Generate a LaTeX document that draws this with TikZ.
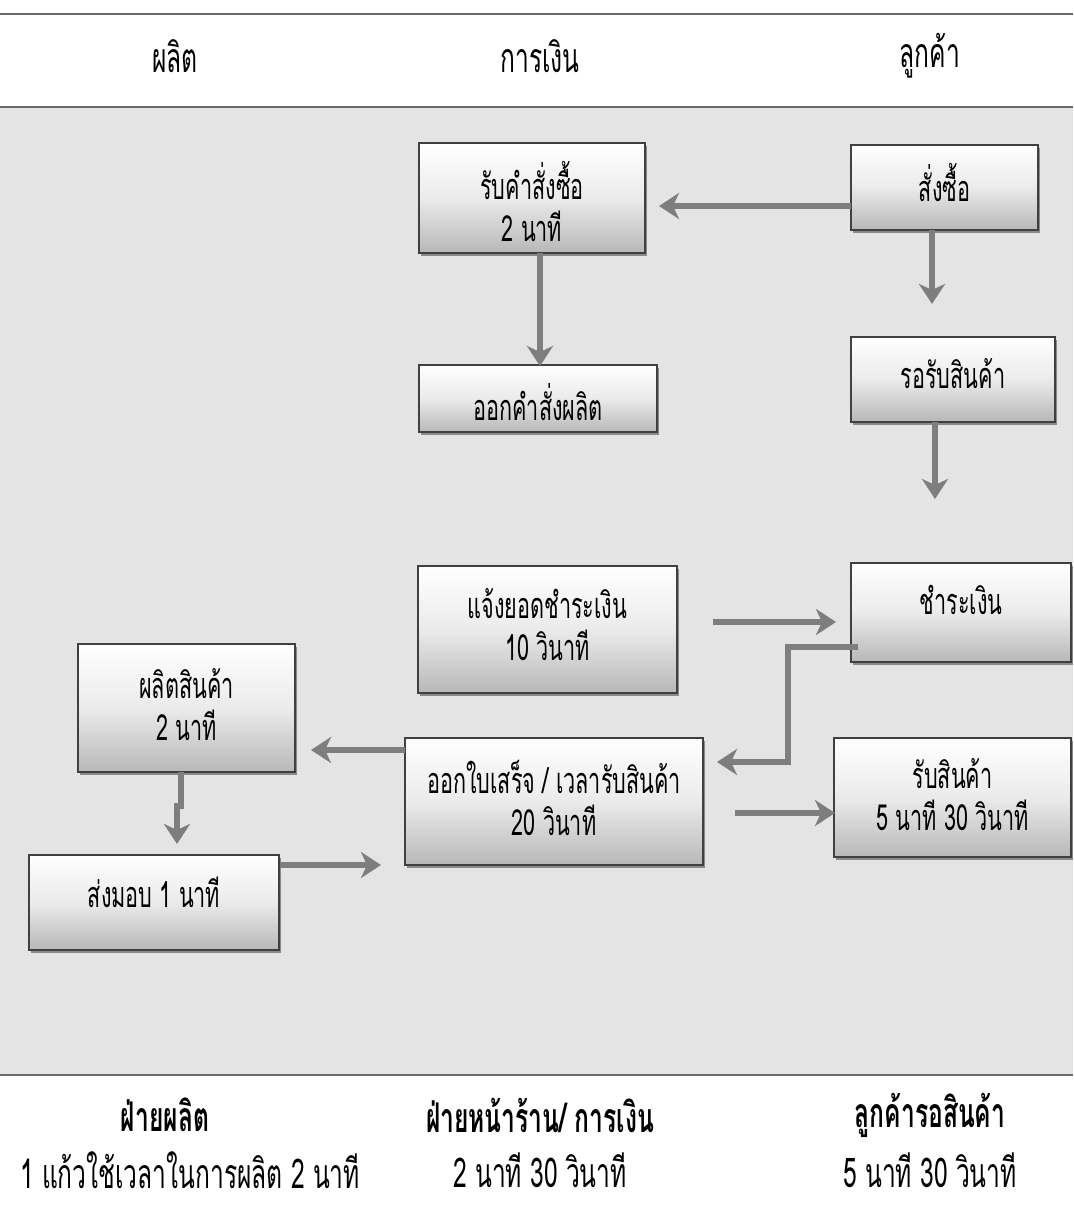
\documentclass[tikz,border=0pt]{standalone}
\usepackage{fontspec}
\newfontfamily\thai[Script=Thai,FakeStretch=0.6]{Loma}
\usetikzlibrary{arrows.meta,shadows}
\definecolor{bggray}{HTML}{E4E4E4}
\definecolor{arrgray}{HTML}{7E7E7E}
\definecolor{linegray}{HTML}{6A6A6A}
\tikzset{
  boxnode/.style={draw=black!75, line width=0.6pt, inner sep=0pt,
    top color=white, bottom color=black!28, middle color=black!8,
    drop shadow={shadow xshift=1.2pt, shadow yshift=-1.5pt, fill=black!55, opacity=0.8}},
  txt/.style={font=\thai\fontsize{18}{21}\selectfont, align=center, inner sep=0pt},
  headtxt/.style={font=\thai\fontsize{20.5}{22}\selectfont, inner sep=0pt},
  foottxt/.style={font=\thai\bfseries\fontsize{20.5}{22}\selectfont, inner sep=0pt},
  sepline/.style={draw=linegray, line width=0.7pt},
  flow/.style={draw=arrgray, line width=3.2pt,
    -{Stealth[length=10pt,width=13pt,inset=3pt]}}
}
\begin{document}
\begin{tikzpicture}[x=0.5pt,y=-0.5pt]
\useasboundingbox (0,0) rectangle (1073,1208);
% background band
\fill[bggray] (0,107) rectangle (1073,1075);
% separator lines
\draw[sepline] (0,14) -- (1073,14);
\draw[sepline] (0,107) -- (1073,107);
\draw[sepline] (0,1075) -- (1073,1075);
% headers
\node[headtxt] (h1) at (175,56) {ผลิต};
\node[headtxt] (h2) at (540,56) {การเงิน};
\node[headtxt] (h3) at (930,56) {ลูกค้า};
% footers
\node[foottxt] (f1) at (165,1115) {ฝ่ายผลิต};
\node[foottxt] (f2) at (540,1115) {ฝ่ายหน้าร้าน/ การเงิน};
\node[foottxt] (f3) at (930,1115) {ลูกค้ารอสินค้า};
\node[headtxt] (g1) at (190,1170) {1 แก้วใช้เวลาในการผลิต 2 นาที};
\node[headtxt] (g2) at (540,1170) {2 นาที 30 วินาที};
\node[headtxt] (g3) at (930,1170) {5 นาที 30 วินาที};
% boxes
\node[boxnode, minimum width=113pt, minimum height=55pt] (rcv) at (532,198) {};
\node[boxnode, minimum width=93.5pt, minimum height=42.5pt] (order) at (944.5,187.5) {};
\node[boxnode, minimum width=119pt, minimum height=33.5pt] (prodorder) at (538,398.5) {};
\node[boxnode, minimum width=102pt, minimum height=42.5pt] (wait) at (953,379.5) {};
\node[boxnode, minimum width=129.5pt, minimum height=63.5pt] (bill) at (547.5,629.5) {};
\node[boxnode, minimum width=110pt, minimum height=49.5pt] (pay) at (961,612.5) {};
\node[boxnode, minimum width=118.5pt, minimum height=59.5pt] (get) at (952.5,797.5) {};
\node[boxnode, minimum width=108.5pt, minimum height=64pt] (produce) at (186.5,708) {};
\node[boxnode, minimum width=149pt, minimum height=63.5pt] (receipt) at (554,801.5) {};
\node[boxnode, minimum width=125pt, minimum height=47.5pt] (deliver) at (154,902.5) {};
% box texts
\node[txt] (rcvT) at (532,202) {รับคำสั่งซื้อ\\2 นาที};
\node[txt] (orderT) at (944.5,183) {สั่งซื้อ};
\node[txt] (prodorderT) at (538,402) {ออกคำสั่งผลิต};
\node[txt] (waitT) at (953,374) {รอรับสินค้า};
\node[txt] (billT) at (547.5,625) {แจ้งยอดชำระเงิน\\10 วินาที};
\node[txt] (payT) at (961,600) {ชำระเงิน};
\node[txt] (getT) at (952.5,795) {รับสินค้า\\5 นาที 30 วินาที};
\node[txt] (produceT) at (186.5,705) {ผลิตสินค้า\\2 นาที};
\node[txt] (receiptT) at (554,798) {ออกใบเสร็จ / เวลารับสินค้า\\20 วินาที};
\node[txt] (deliverT) at (154,892) {ส่งมอบ 1 นาที};
% free connector ends
\coordinate (a1) at (851,206); \coordinate (a2) at (659,206);
\coordinate (b1) at (932,230); \coordinate (b2) at (932,304);
\coordinate (c1) at (540,253); \coordinate (c2) at (540,366);
\coordinate (d1) at (935,422); \coordinate (d2) at (935,499);
\coordinate (e1) at (713,622); \coordinate (e2) at (836,622);
\coordinate (k1) at (858,647); \coordinate (k2) at (788,647);
\coordinate (k3) at (788,762); \coordinate (k4) at (717,762);
\coordinate (m1) at (735,813); \coordinate (m2) at (835,813);
\coordinate (n1) at (405,750); \coordinate (n2) at (311,750);
\coordinate (p1) at (280,865); \coordinate (p2) at (381,865);
\coordinate (q1) at (181,772); \coordinate (q2) at (181,806);
\coordinate (q3) at (177,806); \coordinate (q4) at (177,844);
% connectors
\draw[flow] (a1) -- (a2);
\draw[flow] (b1) -- (b2);
\draw[flow] (c1) -- (c2);
\draw[flow] (d1) -- (d2);
\draw[flow] (e1) -- (e2);
\draw[flow] (k1) -- (k2) -- (k3) -- (k4);
\draw[flow] (m1) -- (m2);
\draw[flow] (n1) -- (n2);
\draw[flow] (p1) -- (p2);
\draw[flow] (q1) -- (q2) -- (q3) -- (q4);
\end{tikzpicture}
\end{document}
